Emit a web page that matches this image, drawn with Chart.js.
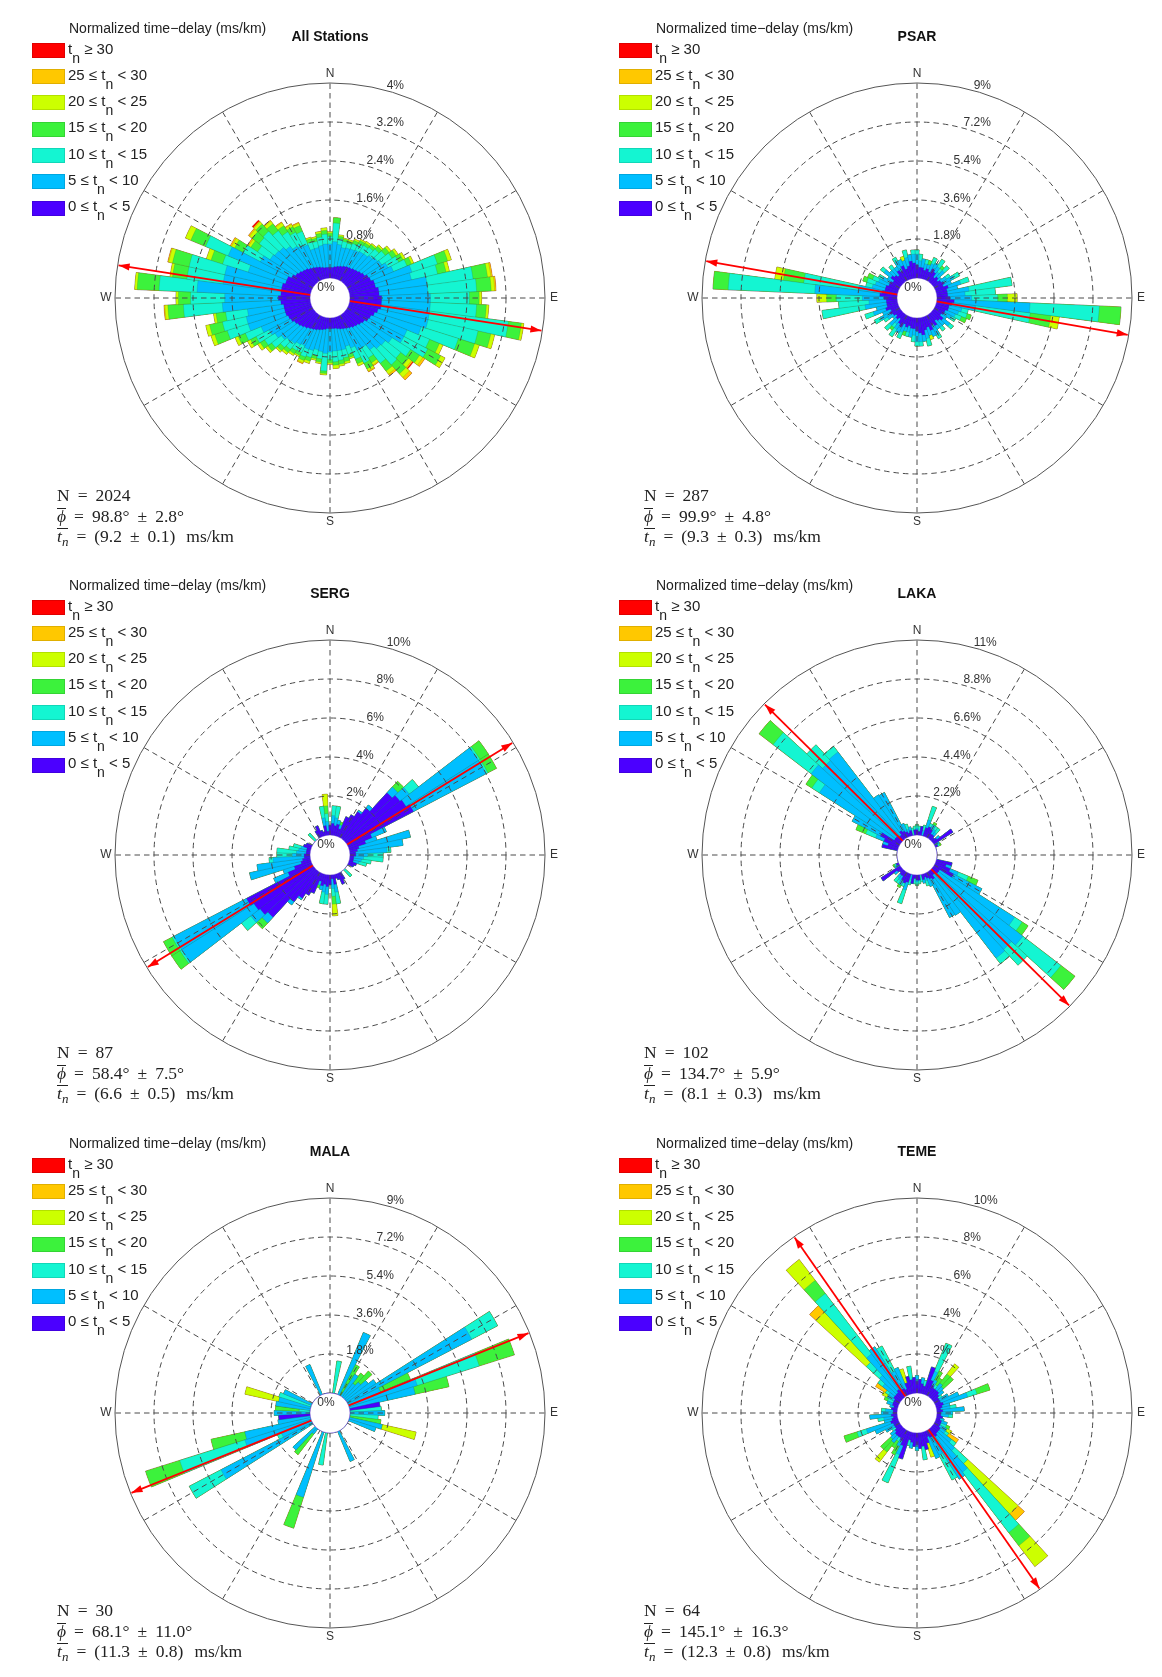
<!DOCTYPE html>
<html>
<head>
<meta charset="utf-8">
<title>Normalized time-delay roses</title>
<script src="https://cdn.jsdelivr.net/npm/chart.js@4.4.1/dist/chart.umd.min.js"></script>
<style>
  html, body { margin: 0; padding: 0; background: #fff; }
  #page { position: relative; width: 1162px; height: 1677px; overflow: hidden; }
  .panel { position: absolute; width: 580px; height: 557px; }
  .panel canvas { position: absolute; left: 0; top: 0; }
  .lg-head { position: absolute; left: 69px; top: 20px; font: 14px 'Liberation Sans', Arial, sans-serif; line-height: 16px; color: #222; white-space: nowrap; }
  .title { position: absolute; left: 230px; top: 28px; width: 200px; text-align: center; font: bold 14px 'Liberation Sans', Arial, sans-serif; line-height: 16px; color: #111; }
  .sw { position: absolute; left: 32px; width: 33px; height: 15px; box-sizing: border-box; border: 1px solid rgba(0,0,0,0.12); }
  .lg-txt { position: absolute; left: 68px; font: 15px 'Liberation Sans', Arial, sans-serif; line-height: 20px; color: #222; white-space: nowrap; }
  .lg-txt sub { font-size: 14px; vertical-align: -9px; line-height: 0; }
  .stats { position: absolute; left: 57px; font: 17.5px 'Liberation Serif', 'DejaVu Serif', serif; line-height: 20px; color: #222; white-space: nowrap; }
  .stats .eq { margin: 0 8px; }
  .stats .pm { margin: 0 8px; }
  .stats .unit { margin-left: 11px; }
  .stats .ov { display: inline-block; border-top: 1px solid #222; line-height: 15px; }
  .stats sub { font-size: 13px; vertical-align: -4px; line-height: 0; }
</style>
</head>
<body>
<div id="page"></div>
<script>
// direction bins (deg, centred), 5 degree wide
const DIRECTIONS = [
  0, 5, 10, 15, 20, 25, 30, 35, 40, 45, 50, 55,
  60, 65, 70, 75, 80, 85, 90, 95, 100, 105, 110, 115,
  120, 125, 130, 135, 140, 145, 150, 155, 160, 165, 170, 175,
  180, 185, 190, 195, 200, 205, 210, 215, 220, 225, 230, 235,
  240, 245, 250, 255, 260, 265, 270, 275, 280, 285, 290, 295,
  300, 305, 310, 315, 320, 325, 330, 335, 340, 345, 350, 355];

const CLASS_BOUNDS = [[0, 5], [5, 10], [10, 15], [15, 20], [20, 25], [25, 30], [30, null]];
const CLASS_COLORS = ['#4b00ff', '#00bfff', '#14f5d2', '#3cf23c', '#ccff00', '#ffc800', '#ff0000'];
const SPOKES = [0, 30, 60, 90, 120, 150, 180, 210, 240, 270, 300, 330];
const COMPASS = [['N', 0], ['E', 90], ['S', 180], ['W', 270]];

const STATION_NAMES = ['All Stations', 'PSAR', 'SERG', 'LAKA', 'MALA', 'TEME'];
const RADIAL_TICKS = [
  [0.8, 1.6, 2.4, 3.2, 4],
  [1.8, 3.6, 5.4, 7.2, 9],
  [2, 4, 6, 8, 10],
  [2.2, 4.4, 6.6, 8.8, 11],
  [1.8, 3.6, 5.4, 7.2, 9],
  [2, 4, 6, 8, 10]];
const N_EVENTS = [2024, 287, 87, 102, 30, 64];
const MEAN_DIR = [98.8, 99.9, 58.4, 134.7, 68.1, 145.1];
const DIR_ERR = [2.8, 4.8, 7.5, 5.9, 11.0, 16.3];
const MEAN_TN = [9.2, 9.3, 6.6, 8.1, 11.3, 12.3];
const TN_ERR = [0.1, 0.3, 0.5, 0.3, 0.8, 0.8];

// percentage of events per direction bin, one array per time-delay class
const ALL_0_5 = [
  0.22,0.22,0.24,0.26,0.28,0.30,0.32,0.33,0.35,0.37,0.40,0.43,
  0.48,0.50,0.55,0.55,0.60,0.60,0.65,0.65,0.65,0.60,0.55,0.50,
  0.48,0.43,0.40,0.37,0.35,0.32,0.30,0.28,0.26,0.24,0.22,0.22,
  0.22,0.22,0.24,0.26,0.28,0.30,0.32,0.34,0.37,0.40,0.43,0.46,
  0.50,0.52,0.55,0.55,0.55,0.60,0.65,0.60,0.60,0.60,0.55,0.55,
  0.48,0.43,0.40,0.37,0.35,0.32,0.30,0.28,0.26,0.24,0.22,0.22];
const ALL_5_10 = [
  0.48,0.53,0.46,0.39,0.39,0.38,0.38,0.39,0.38,0.40,0.42,0.42,
  0.45,0.50,0.80,0.75,1.00,1.00,1.00,1.00,1.00,1.05,1.00,0.80,
  0.82,0.67,0.62,0.63,0.58,0.48,0.50,0.42,0.37,0.44,0.46,0.46,
  0.48,0.51,0.46,0.42,0.44,0.43,0.38,0.38,0.40,0.39,0.42,0.47,
  0.50,0.60,0.80,0.80,0.75,1.20,1.10,1.72,1.20,1.20,0.80,1.30,
  0.72,0.62,0.62,0.63,0.58,0.53,0.51,0.49,0.39,0.41,0.46,0.48];
const ALL_10_15 = [
  0.15,0.38,0.12,0.13,0.10,0.12,0.15,0.15,0.17,0.18,0.20,0.25,
  0.25,0.30,0.55,0.55,0.95,1.00,0.80,0.95,1.63,1.05,0.80,0.50,
  0.55,0.45,0.40,0.45,0.35,0.25,0.30,0.25,0.17,0.17,0.20,0.22,
  0.15,0.36,0.15,0.12,0.15,0.17,0.15,0.15,0.15,0.18,0.25,0.25,
  0.30,0.35,0.45,0.50,0.45,0.80,0.70,0.78,0.75,0.75,0.55,0.50,
  0.40,0.30,0.40,0.45,0.40,0.35,0.30,0.30,0.15,0.13,0.17,0.20];
const ALL_15_20 = [
  0.07,0.11,0.05,0.05,0.05,0.07,0.07,0.06,0.07,0.08,0.10,0.10,
  0.10,0.10,0.22,0.18,0.30,0.30,0.20,0.20,0.27,0.27,0.35,0.22,
  0.30,0.22,0.20,0.25,0.20,0.12,0.13,0.10,0.07,0.08,0.08,0.07,
  0.07,0.05,0.07,0.07,0.08,0.08,0.07,0.08,0.08,0.09,0.10,0.11,
  0.13,0.16,0.27,0.27,0.20,0.32,0.25,0.45,0.30,0.35,0.25,0.33,
  0.20,0.17,0.18,0.20,0.18,0.15,0.13,0.13,0.07,0.07,0.08,0.08];
const ALL_20_25 = [
  0.03,0.00,0.03,0.02,0.03,0.03,0.03,0.04,0.03,0.04,0.05,0.05,
  0.05,0.05,0.08,0.07,0.07,0.07,0.05,0.05,0.05,0.08,0.10,0.08,
  0.10,0.08,0.08,0.10,0.08,0.05,0.05,0.05,0.03,0.04,0.04,0.07,
  0.03,0.03,0.03,0.03,0.05,0.05,0.03,0.04,0.05,0.04,0.05,0.06,
  0.07,0.07,0.08,0.08,0.05,0.06,0.05,0.05,0.05,0.08,0.10,0.12,
  0.07,0.05,0.07,0.06,0.07,0.07,0.05,0.05,0.03,0.03,0.04,0.05];
const ALL_25_30 = [
  0,0,0,0,0,0,0,0,0,0,0,0,
  0,0,0,0,0.03,0.03,0,0,0,0,0,0,
  0,0.05,0.03,0.07,0.04,0.02,0.02,0,0,0,0,0,
  0,0,0,0,0,0.02,0,0,0,0,0,0,
  0,0,0,0,0,0.02,0,0,0,0.02,0,0,
  0.03,0.03,0.03,0.02,0.02,0.02,0.02,0.02,0,0,0,0];
const ALL_30 = [
  0,0,0,0,0,0,0,0,0,0,0,0,
  0,0,0,0,0,0,0,0,0,0,0,0,
  0,0,0.02,0,0,0,0,0,0,0,0,0,
  0,0,0,0,0,0,0,0,0,0,0,0,
  0,0,0,0,0,0,0,0,0,0,0,0,
  0,0,0,0.03,0,0,0,0,0,0,0,0];

const PSAR_0_5 = [
  0.6,0.5,0.5,0.4,0.5,0.4,0.6,0.5,0.3,0.4,0.3,0.4,
  0.5,0.4,0.6,0.5,0.5,0.5,0.6,0.8,0.7,0.6,0.6,0.5,
  0.5,0.4,0.6,0.5,0.4,0.6,0.5,0.7,0.5,0.6,0.8,0.7,
  0.6,0.5,0.5,0.4,0.5,0.4,0.6,0.5,0.3,0.4,0.3,0.4,
  0.5,0.4,0.6,0.5,0.5,0.5,0.6,0.8,0.7,0.6,0.6,0.5,
  0.5,0.4,0.6,0.5,0.4,0.6,0.5,0.7,0.5,0.6,0.8,0.7];
const PSAR_5_10 = [
  0.5,0.3,0.4,0.3,0.2,0.4,0.3,0.3,0.3,0.4,0.2,0.3,
  0.5,0.4,0.6,0.5,1.0,0.8,1.0,3.5,1.1,0.6,0.5,0.5,
  0.4,0.3,0.4,0.3,0.4,0.2,0.5,0.3,0.4,0.4,0.3,0.4,
  0.5,0.3,0.4,0.3,0.2,0.4,0.3,0.3,0.3,0.4,0.2,0.3,
  0.5,0.4,0.6,0.5,1.0,0.8,1.0,3.0,1.1,0.6,0.5,0.5,
  0.4,0.3,0.4,0.3,0.4,0.2,0.5,0.3,0.4,0.4,0.3,0.4];
const PSAR_10_15 = [
  0.2,0.3,0,0.2,0,0.3,0,0.4,0.2,0.3,0,0.2,
  0.3,0,0.4,0,2.0,1.4,1.2,3.2,2.55,0.3,0.4,0.3,
  0.2,0,0.2,0,0.2,0,0.2,0,0,0.35,0,0.2,
  0.2,0.3,0,0.2,0,0.3,0,0.4,0.2,0.3,0,0.2,
  0.3,0,0.4,0,2.0,1.4,1.2,4.0,2.55,0.3,0.4,0.3,
  0.2,0,0.2,0,0.2,0,0.2,0,0,0.35,0,0.2];
const PSAR_15_20 = [
  0,0,0,0,0.2,0,0,0,0.15,0,0,0,
  0,0,0,0,0,0,0.45,1.0,0.95,0,0.2,0.25,
  0,0,0,0,0,0,0,0,0,0,0,0,
  0,0,0,0,0.2,0,0,0,0.15,0,0,0,
  0,0,0,0,0,0,0.45,0.7,0.95,0,0.2,0.25,
  0,0,0,0,0,0,0,0,0,0,0,0];
const PSAR_20_25 = [
  0,0,0,0,0,0,0,0,0,0,0,0,
  0,0,0,0,0,0,0.45,0,0.4,0,0,0,
  0,0,0,0,0,0,0,0,0.2,0,0,0,
  0,0,0,0,0,0,0,0,0,0,0,0,
  0,0,0,0,0,0,0.45,0,0.4,0,0,0,
  0,0,0,0,0,0,0,0,0.2,0,0,0];
const PSAR_25_30 = [
  0,0,0,0,0,0,0,0,0,0,0,0, 0,0,0,0,0,0,0,0,0,0,0,0,
  0,0,0,0,0,0,0,0,0,0,0,0, 0,0,0,0,0,0,0,0,0,0,0,0,
  0,0,0,0,0,0,0,0,0,0,0,0, 0,0,0,0,0,0,0,0,0,0,0,0];
const PSAR_30 = [
  0,0,0,0,0,0,0,0,0,0,0,0, 0,0,0,0,0,0,0,0,0,0,0,0,
  0,0,0,0,0,0,0,0,0,0,0,0, 0,0,0,0,0,0,0,0,0,0,0,0,
  0,0,0,0,0,0,0,0,0,0,0,0, 0,0,0,0,0,0,0,0,0,0,0,0];

const SERG_0_5 = [
  0.5,0.6,0.5,0.6,0.4,1.1,1.3,1.6,2.0,3.3,3.5,3.6,
  3.8,1.3,0.9,0.5,0.4,0.3,0.3,0.2,0.2,0.2,0.4,0.3,
  0,0,0,0,0,0,0.4,0.6,0.3,0.2,0.5,0.2,
  0.5,0.6,0.5,0.6,0.4,1.1,1.3,1.6,2.0,3.3,3.5,3.6,
  3.8,1.3,0.9,0.5,0.4,0.3,0.3,0.2,0.2,0.2,0.4,0.3,
  0,0,0,0,0,0,0.4,0.6,0.3,0.2,0.5,0.2];
const SERG_5_10 = [
  0,0.4,0.4,0.2,0.2,0,0,0.1,0.2,0.4,0.6,4.4,
  4.2,0.8,0.6,2.7,2.35,1.6,0.6,0.5,0.4,0.3,0,0,
  0,0,0,0,0,0,0,0,0,0,0.4,0.5,
  0,0.4,0.4,0.2,0.2,0,0,0.1,0.2,0.4,0.6,4.4,
  4.2,0.8,0.6,2.7,2.35,1.6,0.6,0.5,0.4,0.3,0,0,
  0,0,0,0,0,0,0,0,0,0,0.4,0.5];
const SERG_10_15 = [
  0,0.5,0.6,0,0,0,0,0,0,0,0.6,0.1,
  0.1,0,0,0,0,0.2,0.8,1.0,0.5,0.4,0,0,
  0,0,0,0.5,0,0,0,0,0,0,0.6,0.4,
  0,0.5,0.6,0,0,0,0,0,0,0,0.6,0.1,
  0.1,0,0,0,0,0.2,0.8,1.0,0.5,0.4,0,0,
  0,0,0,0.5,0,0,0,0,0,0,0.6,0.4];
const SERG_15_20 = [
  0,0,0,0,0.15,0,0,0,0,0.4,0,0.5,
  0.5,0,0,0,0,0,0,0,0,0,0,0,
  0,0,0,0,0,0,0,0,0,0,0,0.4,
  0,0,0,0,0.15,0,0,0,0,0.4,0,0.5,
  0.5,0,0,0,0,0,0,0,0,0,0,0,
  0,0,0,0,0,0,0,0,0,0,0,0.4];
const SERG_20_25 = [
  0,0,0,0,0,0,0,0,0,0,0,0,
  0,0,0,0,0,0,0,0,0,0,0,0,
  0,0,0,0,0,0,0,0,0,0,0,0.6,
  0,0,0,0,0,0,0,0,0,0,0,0,
  0,0,0,0,0,0,0,0,0,0,0,0,
  0,0,0,0,0,0,0,0,0,0,0,0.6];
const SERG_25_30 = [
  0,0,0,0,0,0,0,0,0,0,0,0, 0,0,0,0,0,0,0,0,0,0,0,0,
  0,0,0,0,0,0,0,0,0,0,0,0, 0,0,0,0,0,0,0,0,0,0,0,0,
  0,0,0,0,0,0,0,0,0,0,0,0, 0,0,0,0,0,0,0,0,0,0,0,0];
const SERG_30 = [
  0,0,0,0,0,0,0,0,0,0,0,0, 0,0,0,0,0,0,0,0,0,0,0,0,
  0,0,0,0,0,0,0,0,0,0,0,0, 0,0,0,0,0,0,0,0,0,0,0,0,
  0,0,0,0,0,0,0,0,0,0,0,0, 0,0,0,0,0,0,0,0,0,0,0,0];

const LAKA_0_5 = [
  0.3,0.2,0.5,0,0.5,0.6,0.5,0.3,0.3,0.2,0.3,1.27,
  0,0.15,0,0,0,0,0,0,0,0.9,0.6,0.9,
  1.2,0.4,0.4,0.3,0.3,0.5,0.4,0.3,0.2,0.3,0,0.3,
  0.3,0.2,0.5,0,0.5,0.6,0.5,0.3,0.3,0.2,0.3,1.27,
  0,0.15,0,0,0,0,0,0,0,0.9,0.6,0.9,
  1.2,0.4,0.4,0.3,0.3,0.5,0.4,0.3,0.2,0.3,0,0.3];
const LAKA_5_10 = [
  0.1,0,0,0.3,0.45,0,0.3,0.3,0.2,0,0.2,0,
  0.3,0,0,0,0,0,0,0,0,0,0.3,0.5,
  1.8,5.0,6.0,5.8,5.9,2.4,2.45,0.5,0.2,0.2,0,0,
  0.1,0,0,0.3,0.45,0,0.3,0.3,0.2,0,0.2,0,
  0.3,0,0,0,0,0,0,0,0,0,0.3,0.5,
  1.8,5.0,6.0,5.8,5.9,2.4,2.45,0.5,0.2,0.2,0,0];
const LAKA_10_15 = [
  0.2,0.3,0,0.3,0.8,0.2,0,0.2,0.3,0,0,0,
  0,0.1,0,0,0,0,0,0,0,0,0,0.6,
  0,0.5,2.7,1.2,0.4,0,0,0,0.3,0,0.4,0.2,
  0.2,0.3,0,0.3,0.8,0.2,0,0.2,0.3,0,0,0,
  0,0.1,0,0,0,0,0,0,0,0,0,0.6,
  0,0.5,2.7,1.2,0.4,0,0,0,0.3,0,0.4,0.2];
const LAKA_15_20 = [
  0,0,0,0,0,0,0.15,0,0,0,0,0,
  0,0.1,0,0,0,0,0,0,0,0,0,0.6,
  0,0.4,1.0,0,0,0,0,0,0,0,0,0,
  0,0,0,0,0,0,0.15,0,0,0,0,0,
  0,0.1,0,0,0,0,0,0,0,0,0,0.6,
  0,0.4,1.0,0,0,0,0,0,0,0,0,0];
const LAKA_20_25 = [
  0,0,0,0,0,0,0,0,0,0,0,0, 0,0,0,0,0,0,0,0,0,0,0,0,
  0,0,0,0,0,0,0,0,0,0,0,0, 0,0,0,0,0,0,0,0,0,0,0,0,
  0,0,0,0,0,0,0,0,0,0,0,0, 0,0,0,0,0,0,0,0,0,0,0,0];
const LAKA_25_30 = [
  0,0,0,0,0,0,0,0,0,0,0,0, 0,0,0,0,0,0,0,0,0,0,0,0,
  0,0,0,0,0,0,0,0,0,0,0,0, 0,0,0,0,0,0,0,0,0,0,0,0,
  0,0,0,0,0,0,0,0,0,0,0,0, 0,0,0,0,0,0,0,0,0,0,0,0];
const LAKA_30 = [
  0,0,0,0,0,0,0,0,0,0,0,0, 0,0,0,0,0,0,0,0,0,0,0,0,
  0,0,0,0,0,0,0,0,0,0,0,0, 0,0,0,0,0,0,0,0,0,0,0,0,
  0,0,0,0,0,0,0,0,0,0,0,0, 0,0,0,0,0,0,0,0,0,0,0,0];

const MALA_0_5 = [
  0,0,0,0,0,0,0,0,0,0,0,0,
  0,0,0,0,1.4,0,0,0,0,0,0,0,
  0,0,0,0,0,0,0,0,0,0,0,0,
  0,0,0,0,0,0,0,0,0,0,0,0,
  0,0,0,0,0,1.45,0,0,0,0,0,0,
  0,0,0,0,0,0,0,0,0,0,0,0];
const MALA_5_10 = [
  0,0,0,0,0,3.1,0,1.2,0.8,1.0,1.3,1.6,
  6.45,1.6,3.3,3.1,0,0,1.6,0,0,1.55,1.3,0,
  0,0,0,0,0,0,0,1.5,0,0,0,0,
  0,0,0,0,3.15,0,0,0,0.3,1.4,0,0,
  4.75,1.5,3.2,3.1,1.5,0,1.65,0,1.6,1.5,0,1.4,
  0,0,0,0,0,0,0,1.5,0,0,0,0];
const MALA_10_15 = [
  0,0,1.5,0,0,0,0,0,0,0,0,0,
  1.35,0,3.0,0,0,1.45,0,1.3,0,0,0,0,
  0,0,0,0,0,0,0,0,0,0,0,0,
  0,0,1.5,0,0,0,0,0,0,0,0,0,
  1.65,0.2,3.15,0,0,0,0,0.5,0,0,1.55,0,
  0,0,0,0,0,0,0,0,0,0,0,0];
const MALA_15_20 = [
  0,0,0,0,0,0,1.6,0,0.6,0.7,0,0,
  0,1.5,1.7,1.6,0,0,0,0,1.45,0,0,0,
  0,0,0,0,0,0,0,0,0,0,0,0,
  0,0,0,0,1.5,0,0,0,1.2,0,0,0,
  0,0,1.65,1.6,0,0,0,1.1,0,0,0,0,
  0,0,0,0,0,0,0,0,0,0,0,0];
const MALA_20_25 = [
  0,0,0,0,0,0,0,0,0,0,0,0,
  0,0,0,0,0,0,0,0,0,1.6,0,0,
  0,0,0,0,0,0,0,0,0,0,0,0,
  0,0,0,0,0,0,0,0,0,0,0,0,
  0,0,0,0,0,0,0,0,0,1.6,0,0,
  0,0,0,0,0,0,0,0,0,0,0,0];
const MALA_25_30 = [
  0,0,0,0,0,0,0,0,0,0,0,0, 0,0,0,0,0,0,0,0,0,0,0,0,
  0,0,0,0,0,0,0,0,0,0,0,0, 0,0,0,0,0,0,0,0,0,0,0,0,
  0,0,0,0,0,0,0,0,0,0,0,0, 0,0,0,0,0,0,0,0,0,0,0,0];
const MALA_30 = [
  0,0,0,0,0,0,0,0,0,0,0,0, 0,0,0,0,0,0,0,0,0,0,0,0,
  0,0,0,0,0,0,0,0,0,0,0,0, 0,0,0,0,0,0,0,0,0,0,0,0,
  0,0,0,0,0,0,0,0,0,0,0,0, 0,0,0,0,0,0,0,0,0,0,0,0];

const TEME_0_5 = [
  0.6,0.7,0.5,0.4,1.45,0.8,0.6,0.5,0.5,0.5,0.4,0.3,
  0.3,0.3,0.4,0.3,0.2,0.3,0.2,0.2,0.3,0.2,0.3,0.3,
  0.3,0.4,0.4,0.4,0.5,0.4,0.4,0.3,0.6,0.9,0.7,0.8,
  0.6,0.7,0.5,0.4,1.45,0.8,0.6,0.5,0.5,0.5,0.4,0.3,
  0.3,0.3,0.4,0.3,0.2,0.3,0.2,0.2,0.3,0.2,0.3,0.3,
  0.3,0.4,0.4,0.4,0.5,0.4,0.4,0.3,0.6,0.9,0.7,0.8];
const TEME_5_10 = [
  0.3,0,0.3,0,0,0.5,0.3,0,0.4,0.3,0.3,0,
  0.5,1.0,1.3,0.4,0.5,1.1,0.6,0.4,0,0.2,0.3,0,
  0.4,0.3,0.8,1.2,2.3,2.6,1.0,1.2,0,0,0,0,
  0.3,0,0.3,0,0,0.5,0.3,0,0.4,0.3,0.3,0,
  0.5,1.0,1.3,0.4,0.5,1.1,0.6,0.4,0,0.2,0.3,0,
  0.4,0.3,0.8,1.2,2.3,2.6,1.0,1.2,0,0,0,0];
const TEME_10_15 = [
  0,0,0,0.3,0,1.55,0,0.2,0,0,0,0.2,
  0,0,0.5,0,0.3,0,0,0.2,0,0,0,0.3,
  0,0.2,0.3,0.9,3.9,0,1.45,0,0,0,0.7,0,
  0,0,0,0.3,0,1.55,0,0.2,0,0,0,0.2,
  0,0,0.5,0,0.3,0,0,0.2,0,0,0,0.3,
  0,0.2,0.3,0.9,3.9,0,1.45,0,0,0,0.7,0];
const TEME_15_20 = [
  0,0,0,0,0,0,0.5,0.4,0.6,0.7,0,0,
  0,0,0.7,0,0,0,0,0,0,0,0,0.2,
  0,0,0,0,0.85,0,0,0,0,0,0,0,
  0,0,0,0,0,0,0.5,0.4,0.6,0.7,0,0,
  0,0,0.7,0,0,0,0,0,0,0,0,0.2,
  0,0,0,0,0.85,0,0,0,0,0,0,0];
const TEME_20_25 = [
  0,0,0,0,0,0,0,0,0.65,0,0,0,
  0,0,0,0,0,0,0,0,0,0,0,0,
  0.3,0,0,3.5,1.35,0,0,0,0.75,0,0,0,
  0,0,0,0,0,0,0,0,0.65,0,0,0,
  0,0,0,0,0,0,0,0,0,0,0,0,
  0.3,0,0,3.5,1.35,0,0,0,0.75,0,0,0];
const TEME_25_30 = [
  0,0,0,0,0,0,0,0,0,0,0,0,
  0,0,0,0,0,0,0,0,0,0,0,0,
  0,0.6,0,0.45,0,0,0,0,0,0,0,0,
  0,0,0,0,0,0,0,0,0,0,0,0,
  0,0,0,0,0,0,0,0,0,0,0,0,
  0,0.6,0,0.45,0,0,0,0,0,0,0,0];
const TEME_30 = [
  0,0,0,0,0,0,0,0,0,0,0,0, 0,0,0,0,0,0,0,0,0,0,0,0,
  0,0,0,0,0,0,0,0,0,0,0,0, 0,0,0,0,0,0,0,0,0,0,0,0,
  0,0,0,0,0,0,0,0,0,0,0,0, 0,0,0,0,0,0,0,0,0,0,0,0];

const STATION_SERIES = [
  [ALL_0_5, ALL_5_10, ALL_10_15, ALL_15_20, ALL_20_25, ALL_25_30, ALL_30],
  [PSAR_0_5, PSAR_5_10, PSAR_10_15, PSAR_15_20, PSAR_20_25, PSAR_25_30, PSAR_30],
  [SERG_0_5, SERG_5_10, SERG_10_15, SERG_15_20, SERG_20_25, SERG_25_30, SERG_30],
  [LAKA_0_5, LAKA_5_10, LAKA_10_15, LAKA_15_20, LAKA_20_25, LAKA_25_30, LAKA_30],
  [MALA_0_5, MALA_5_10, MALA_10_15, MALA_15_20, MALA_20_25, MALA_25_30, MALA_30],
  [TEME_0_5, TEME_5_10, TEME_10_15, TEME_15_20, TEME_20_25, TEME_25_30, TEME_30]];

// the empty disc in the middle, as a share of the radius
const HOLE = 0.093;

const roseDecor = {
  id: 'roseDecor',
  afterDatasetsDraw(chart, args, opts) {
    const scale = chart.scales.r;
    const ctx = chart.ctx;
    const cx = scale.xCenter;
    const cy = scale.yCenter;
    const dist = (v) => scale.getDistanceFromCenterForValue(v);
    const pt = (deg, d) => [cx + d * Math.sin(deg * Math.PI / 180), cy - d * Math.cos(deg * Math.PI / 180)];
    const outer = dist(opts.ticks[opts.ticks.length - 1]);
    const hole = dist(0);

    ctx.save();
    ctx.strokeStyle = '#4a4a4a';
    ctx.lineWidth = 1;
    ctx.setLineDash([5.5, 4]);
    opts.ticks.slice(0, -1).forEach((v) => {
      ctx.beginPath();
      ctx.arc(cx, cy, dist(v), 0, Math.PI * 2);
      ctx.stroke();
    });
    SPOKES.forEach((deg) => {
      const [x, y] = pt(deg, outer);
      ctx.beginPath();
      ctx.moveTo(cx, cy);
      ctx.lineTo(x, y);
      ctx.stroke();
    });
    ctx.setLineDash([]);
    ctx.strokeStyle = '#555';
    ctx.beginPath();
    ctx.arc(cx, cy, outer, 0, Math.PI * 2);
    ctx.stroke();

    // mean direction, drawn both ways
    const tipLen = outer * 0.995;
    const a = pt(opts.phi, tipLen);
    const b = pt(opts.phi + 180, tipLen);
    ctx.strokeStyle = '#ff0000';
    ctx.fillStyle = '#ff0000';
    ctx.lineWidth = 1.8;
    ctx.beginPath();
    ctx.moveTo(a[0], a[1]);
    ctx.lineTo(b[0], b[1]);
    ctx.stroke();
    [opts.phi, opts.phi + 180].forEach((deg) => {
      const [tx, ty] = pt(deg, tipLen);
      const [bx, by] = pt(deg, tipLen - 11);
      const rad = deg * Math.PI / 180;
      const nx = Math.cos(rad) * 3.6;
      const ny = Math.sin(rad) * 3.6;
      ctx.beginPath();
      ctx.moveTo(tx, ty);
      ctx.lineTo(bx + nx, by + ny);
      ctx.lineTo(bx - nx, by - ny);
      ctx.closePath();
      ctx.fill();
    });

    ctx.fillStyle = '#fff';
    ctx.beginPath();
    ctx.arc(cx, cy, hole, 0, Math.PI * 2);
    ctx.fill();
    ctx.strokeStyle = 'rgba(80,40,200,0.5)';
    ctx.lineWidth = 0.8;
    ctx.stroke();

    ctx.fillStyle = '#333';
    ctx.font = '12px "Liberation Sans", Arial, sans-serif';
    ctx.textAlign = 'left';
    ctx.textBaseline = 'bottom';
    opts.ticks.forEach((v) => {
      const [x, y] = pt(15, dist(v));
      ctx.fillText(v + '%', x + 1, y + 1);
    });
    ctx.textAlign = 'center';
    ctx.textBaseline = 'middle';
    ctx.fillText('0%', cx - 4, cy - 10);
    COMPASS.forEach(([txt, deg]) => {
      const [x, y] = pt(deg, outer + 9);
      ctx.fillText(txt, x, y);
    });
    ctx.restore();
  },
};

function stackSeries(series) {
  const stacks = [];
  series.forEach((s, k) => {
    stacks.push(s.map((v, i) => v + (k ? stacks[k - 1][i] : 0)));
  });
  return stacks;
}

function classLabel([lo, hi]) {
  if (hi === null) return 't<sub>n</sub> ≥ ' + lo;
  return lo + ' ≤ t<sub>n</sub> &lt; ' + hi;
}

const page = document.getElementById('page');

STATION_NAMES.forEach((name, idx) => {
  const col = idx % 2;
  const row = Math.floor(idx / 2);
  const panel = document.createElement('div');
  panel.className = 'panel';
  panel.style.left = (col * 587) + 'px';
  panel.style.top = [0, 557, 1115][row] + 'px';

  let html = '<canvas width="580" height="557"></canvas>';
  html += '<div class="lg-head">Normalized time−delay (ms/km)</div>';
  html += '<div class="title">' + name + '</div>';
  CLASS_BOUNDS.slice().reverse().forEach((bounds, i) => {
    const top = 42.7 + i * 26.3;
    const color = CLASS_COLORS[CLASS_BOUNDS.length - 1 - i];
    html += '<div class="sw" style="top:' + top + 'px;background:' + color + '"></div>';
    html += '<div class="lg-txt" style="top:' + (top - 4.2) + 'px">' + classLabel(bounds) + '</div>';
  });
  html += '<div class="stats" style="top:485.4px">N<span class="eq">=</span>' + N_EVENTS[idx] + '</div>';
  html += '<div class="stats" style="top:505.6px"><span class="ov"><i>ϕ</i></span><span class="eq">=</span>'
    + MEAN_DIR[idx].toFixed(1) + '°<span class="pm">±</span>' + DIR_ERR[idx].toFixed(1) + '°</div>';
  html += '<div class="stats" style="top:525.6px"><span class="ov"><i>t<sub>n</sub></i></span><span class="eq">=</span>('
    + MEAN_TN[idx].toFixed(1) + '<span class="pm">±</span>' + TN_ERR[idx].toFixed(1) + ')<span class="unit">ms/km</span></div>';
  panel.innerHTML = html;
  page.appendChild(panel);

  const ticks = RADIAL_TICKS[idx];
  const max = ticks[ticks.length - 1];
  const stacks = stackSeries(STATION_SERIES[idx]);

  new Chart(panel.querySelector('canvas'), {
    type: 'polarArea',
    data: {
      labels: DIRECTIONS.map((d) => d + '°'),
      datasets: stacks.map((data, k) => ({
        label: CLASS_BOUNDS[k].join('-'),
        data,
        backgroundColor: CLASS_COLORS[k],
        borderColor: 'rgba(50,50,50,0.3)',
        borderWidth: 0.5,
      })),
    },
    options: {
      responsive: false,
      animation: false,
      events: [],
      layout: { padding: { left: 115, top: 83, right: 35, bottom: 44 } },
      plugins: {
        legend: { display: false },
        tooltip: { enabled: false },
        roseDecor: { ticks, phi: MEAN_DIR[idx] },
      },
      scales: {
        r: {
          min: -max * HOLE / (1 - HOLE),
          max,
          startAngle: -2.5,
          grid: { display: false },
          angleLines: { display: false },
          ticks: { display: false },
          pointLabels: { display: false },
        },
      },
    },
    plugins: [roseDecor],
  });
});
</script>
</body>
</html>
